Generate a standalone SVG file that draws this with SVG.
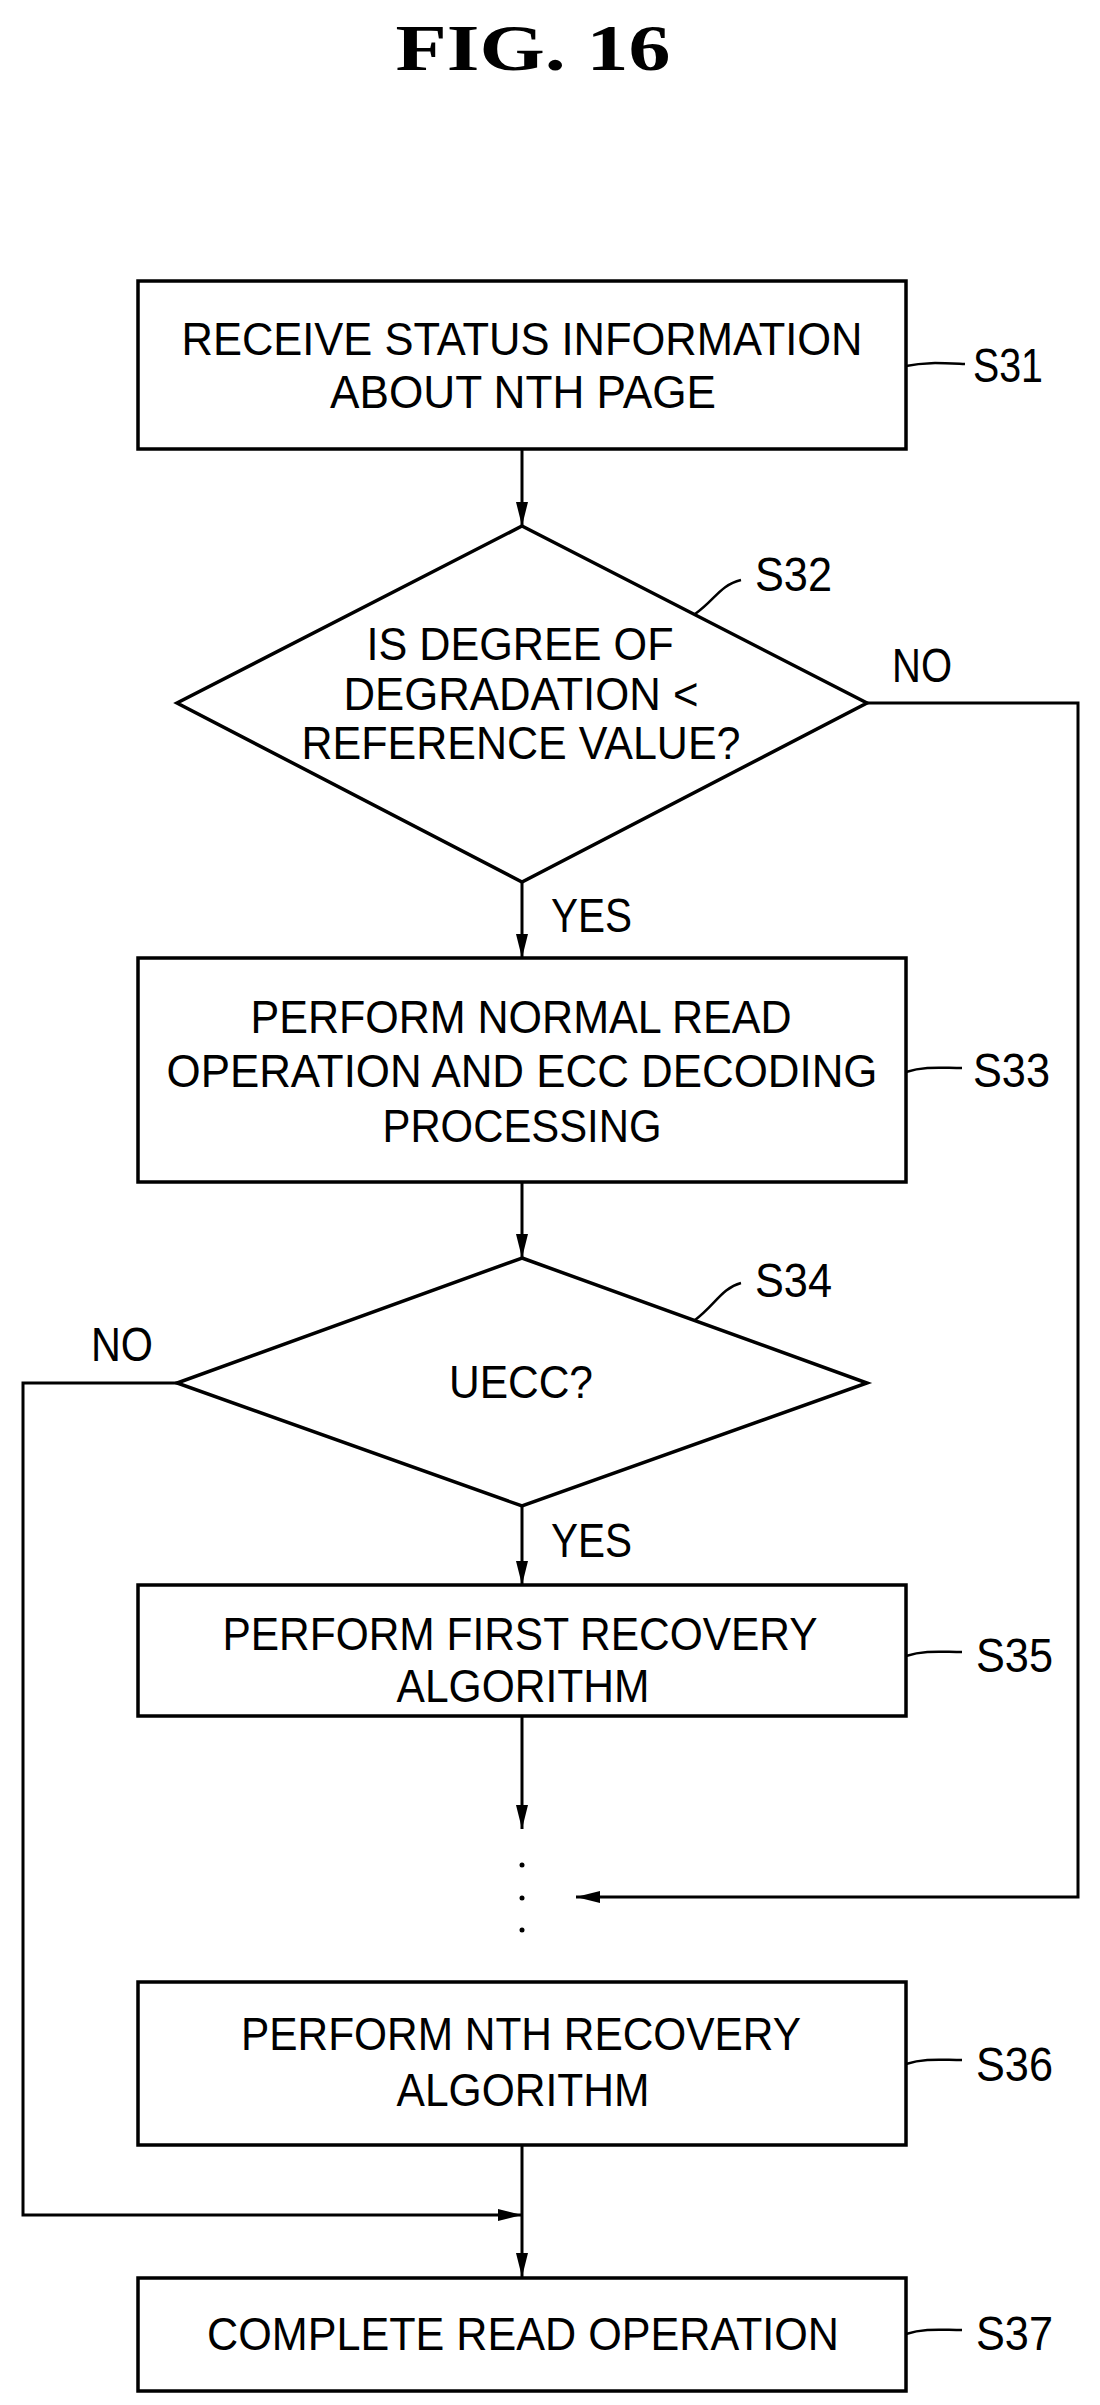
<svg xmlns="http://www.w3.org/2000/svg" width="1100" height="2405" viewBox="0 0 1100 2405">
<defs>
<marker id="ah" markerWidth="24" markerHeight="12" refX="24" refY="6" orient="auto" markerUnits="userSpaceOnUse">
<path d="M0,0 L24,6 L0,12 Z" fill="#000"/>
</marker>
<style>
.box{fill:#fff;stroke:#000;stroke-width:3.5}
.t{font-family:"Liberation Sans",Arial,sans-serif;font-size:46px;fill:#000;text-anchor:middle}
.l{font-family:"Liberation Sans",Arial,sans-serif;font-size:48px;fill:#000}
.c{fill:none;stroke:#000;stroke-width:3}
.ld{fill:none;stroke:#000;stroke-width:2.5}
</style>
</defs>
<rect width="1100" height="2405" fill="#fff"/>
<text x="533" y="70" font-family="'Liberation Serif',serif" font-weight="bold" font-size="66" text-anchor="middle" textLength="275" lengthAdjust="spacingAndGlyphs">FIG. 16</text>

<g id="connectors">
<line class="c" x1="522" y1="449" x2="522" y2="526" marker-end="url(#ah)"/>
<line class="c" x1="522" y1="882" x2="522" y2="958" marker-end="url(#ah)"/>
<line class="c" x1="522" y1="1182" x2="522" y2="1258" marker-end="url(#ah)"/>
<line class="c" x1="522" y1="1506" x2="522" y2="1585" marker-end="url(#ah)"/>
<line class="c" x1="522" y1="1716" x2="522" y2="1829" marker-end="url(#ah)"/>
<polyline class="c" points="867,703 1078,703 1078,1897 576,1897" marker-end="url(#ah)"/>
<polyline class="c" points="177,1383 23,1383 23,2215 522,2215" marker-end="url(#ah)"/>
<line class="c" x1="522" y1="2145" x2="522" y2="2277" marker-end="url(#ah)"/>
<circle cx="522" cy="1865" r="2.5"/>
<circle cx="522" cy="1898" r="2.5"/>
<circle cx="522" cy="1930" r="2.5"/>
<text class="l" x="892" y="682" textLength="60" lengthAdjust="spacingAndGlyphs">NO</text>
<text class="l" x="551" y="932" textLength="81" lengthAdjust="spacingAndGlyphs">YES</text>
<text class="l" x="91" y="1361" textLength="62" lengthAdjust="spacingAndGlyphs">NO</text>
<text class="l" x="551" y="1557" textLength="81" lengthAdjust="spacingAndGlyphs">YES</text>
</g>

<g id="S31">
<rect class="box" x="138" y="281" width="768" height="168"/>
<text class="t" x="522" y="355" textLength="681" lengthAdjust="spacingAndGlyphs">RECEIVE STATUS INFORMATION</text>
<text class="t" x="523" y="408" textLength="386" lengthAdjust="spacingAndGlyphs">ABOUT NTH PAGE</text>
<path class="ld" d="M906,366 C925,362 940,363 965,364"/>
<text class="l" x="973" y="382" textLength="70" lengthAdjust="spacingAndGlyphs">S31</text>
</g>

<g id="S32">
<polygon class="box" points="522,526 867,703 522,882 177,703"/>
<text class="t" x="520" y="660" textLength="307" lengthAdjust="spacingAndGlyphs">IS DEGREE OF</text>
<text class="t" x="521" y="710" textLength="355" lengthAdjust="spacingAndGlyphs">DEGRADATION &lt;</text>
<text class="t" x="521" y="759" textLength="439" lengthAdjust="spacingAndGlyphs">REFERENCE VALUE?</text>
<path class="ld" d="M695,614 C715,600 720,585 741,580"/>
<text class="l" x="755" y="591" textLength="77" lengthAdjust="spacingAndGlyphs">S32</text>
</g>

<g id="S33">
<rect class="box" x="138" y="958" width="768" height="224"/>
<text class="t" x="521" y="1033" textLength="541" lengthAdjust="spacingAndGlyphs">PERFORM NORMAL READ</text>
<text class="t" x="522" y="1087" textLength="711" lengthAdjust="spacingAndGlyphs">OPERATION AND ECC DECODING</text>
<text class="t" x="522" y="1142" textLength="279" lengthAdjust="spacingAndGlyphs">PROCESSING</text>
<path class="ld" d="M906,1072 C925,1066 940,1068 962,1068"/>
<text class="l" x="973" y="1087" textLength="77" lengthAdjust="spacingAndGlyphs">S33</text>
</g>

<g id="S34">
<polygon class="box" points="522,1258 867,1383 522,1506 177,1383"/>
<text class="t" x="521" y="1398" textLength="144" lengthAdjust="spacingAndGlyphs">UECC?</text>
<path class="ld" d="M695,1320 C715,1305 722,1288 741,1283"/>
<text class="l" x="755" y="1297" textLength="77" lengthAdjust="spacingAndGlyphs">S34</text>
</g>

<g id="S35">
<rect class="box" x="138" y="1585" width="768" height="131"/>
<text class="t" x="520" y="1650" textLength="595" lengthAdjust="spacingAndGlyphs">PERFORM FIRST RECOVERY</text>
<text class="t" x="523" y="1702" textLength="253" lengthAdjust="spacingAndGlyphs">ALGORITHM</text>
<path class="ld" d="M906,1656 C925,1650 940,1652 962,1652"/>
<text class="l" x="976" y="1672" textLength="77" lengthAdjust="spacingAndGlyphs">S35</text>
</g>

<g id="S36">
<rect class="box" x="138" y="1982" width="768" height="163"/>
<text class="t" x="521" y="2050" textLength="560" lengthAdjust="spacingAndGlyphs">PERFORM NTH RECOVERY</text>
<text class="t" x="523" y="2106" textLength="253" lengthAdjust="spacingAndGlyphs">ALGORITHM</text>
<path class="ld" d="M906,2064 C925,2058 940,2060 962,2060"/>
<text class="l" x="976" y="2081" textLength="77" lengthAdjust="spacingAndGlyphs">S36</text>
</g>

<g id="S37">
<rect class="box" x="138" y="2278" width="768" height="113"/>
<text class="t" x="523" y="2350" textLength="632" lengthAdjust="spacingAndGlyphs">COMPLETE READ OPERATION</text>
<path class="ld" d="M906,2334 C925,2328 940,2330 962,2330"/>
<text class="l" x="976" y="2350" textLength="77" lengthAdjust="spacingAndGlyphs">S37</text>
</g>
</svg>
